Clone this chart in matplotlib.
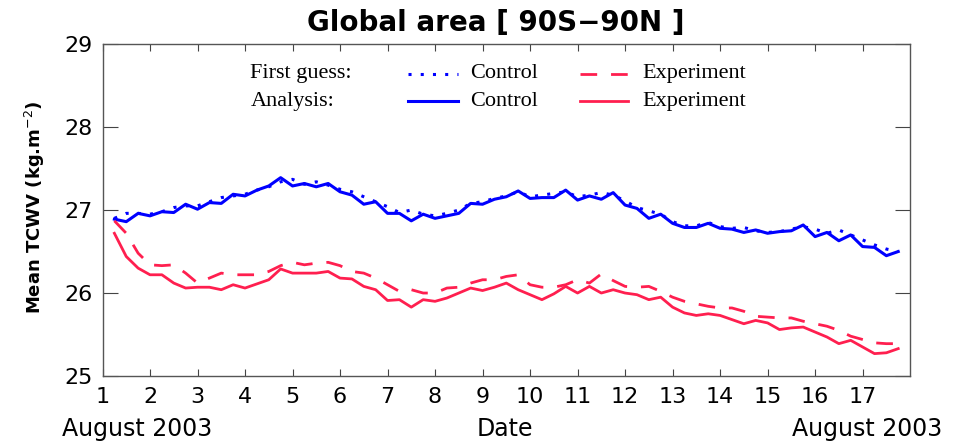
import numpy as np
import matplotlib
matplotlib.use('Agg')
from matplotlib import pyplot as plt

# 6-hourly times, Aug 1 06Z to Aug 17 18Z (day of month)
days = np.arange(1.25, 17.76, 0.25)

# first guess, control (dotted blue)
fg_control = [26.90, 26.96, 26.96, 26.95, 26.98, 27.03, 27.05, 27.05, 27.10, 27.15,
              27.17, 27.19, 27.24, 27.28, 27.34, 27.37, 27.31, 27.34, 27.30, 27.25,
              27.22, 27.16, 27.10, 27.04, 26.97, 27.00, 26.95, 26.93, 26.96, 27.00,
              27.08, 27.10, 27.14, 27.17, 27.22, 27.16, 27.18, 27.20, 27.22, 27.16,
              27.18, 27.21, 27.18, 27.11, 27.03, 26.99, 26.95, 26.86, 26.81, 26.81,
              26.85, 26.80, 26.78, 26.79, 26.75, 26.73, 26.74, 26.77, 26.80, 26.77,
              26.72, 26.76, 26.70, 26.64, 26.58, 26.53, 26.50]

# analysis, control (solid blue)
an_control = [26.89, 26.86, 26.96, 26.93, 26.98, 26.97, 27.07, 27.01, 27.09, 27.08,
              27.19, 27.17, 27.24, 27.29, 27.39, 27.29, 27.32, 27.28, 27.32, 27.22,
              27.18, 27.07, 27.10, 26.96, 26.96, 26.87, 26.95, 26.90, 26.93, 26.96,
              27.08, 27.07, 27.13, 27.16, 27.23, 27.14, 27.15, 27.15, 27.24, 27.12,
              27.17, 27.13, 27.21, 27.06, 27.02, 26.90, 26.95, 26.84, 26.79, 26.79,
              26.84, 26.78, 26.77, 26.73, 26.76, 26.72, 26.74, 26.75, 26.82, 26.68,
              26.73, 26.63, 26.70, 26.56, 26.55, 26.45, 26.50]

# first guess, experiment (dashed red)
fg_experiment = [26.87, 26.72, 26.48, 26.34, 26.33, 26.34, 26.24, 26.12, 26.18, 26.24,
                 26.22, 26.22, 26.22, 26.26, 26.33, 26.37, 26.34, 26.36, 26.37, 26.33,
                 26.26, 26.24, 26.18, 26.10, 26.02, 26.04, 26.00, 26.00, 26.06, 26.07,
                 26.12, 26.16, 26.16, 26.20, 26.22, 26.10, 26.07, 26.07, 26.10, 26.16,
                 26.12, 26.23, 26.15, 26.08, 26.07, 26.08, 26.02, 25.95, 25.90, 25.87,
                 25.84, 25.82, 25.82, 25.78, 25.72, 25.71, 25.70, 25.70, 25.66, 25.63,
                 25.60, 25.55, 25.48, 25.44, 25.40, 25.39, 25.39]

# analysis, experiment (solid red)
an_experiment = [26.72, 26.44, 26.30, 26.22, 26.22, 26.12, 26.06, 26.07, 26.07, 26.04,
                 26.10, 26.06, 26.11, 26.16, 26.29, 26.24, 26.24, 26.24, 26.26, 26.18,
                 26.17, 26.08, 26.04, 25.91, 25.92, 25.83, 25.92, 25.90, 25.94, 26.00,
                 26.06, 26.03, 26.07, 26.12, 26.04, 25.98, 25.92, 25.99, 26.08, 26.00,
                 26.08, 26.00, 26.04, 26.00, 25.98, 25.92, 25.95, 25.83, 25.76, 25.73,
                 25.75, 25.73, 25.68, 25.63, 25.67, 25.64, 25.56, 25.58, 25.59, 25.53,
                 25.47, 25.39, 25.43, 25.35, 25.27, 25.28, 25.33]

xticks = list(range(1, 18))
yticks = [25, 26, 27, 28, 29]

blue = '#0000ff'
red = '#ff1f4f'
dotted = (0, (1, 3))
dashed = (0, (6, 5))

fig = plt.figure(figsize=(9.58, 4.45), dpi=100)
ax = fig.add_axes([0.107, 0.155, 0.843, 0.746])

ax.plot(days, fg_control, color=blue, lw=2.2, linestyle=dotted)
ax.plot(days, an_control, color=blue, lw=2.2)
ax.plot(days, fg_experiment, color=red, lw=2.0, linestyle=dashed)
ax.plot(days, an_experiment, color=red, lw=2.0)

ax.set_xlim(1, 18)
ax.set_ylim(25, 29)
ax.set_xticks(xticks)
ax.set_xticklabels([str(d) for d in xticks])
ax.set_yticks(yticks)
ax.tick_params(axis='x', direction='in', length=5, width=0.8, top=True,
               labelsize=16, pad=8, colors='#444444', labelcolor='black')
ax.tick_params(axis='y', direction='in', length=11, width=0.8, right=True,
               labelsize=16, pad=7, colors='#444444', labelcolor='black')
for s in ax.spines.values():
    s.set_color('#555555')
    s.set_linewidth(1.0)

# legend drawn by hand (serif text as in the original)
tr = ax.transAxes
lf = dict(family='Liberation Serif', fontsize=16, va='center', transform=tr)
ax.text(0.183, 0.910, 'First guess:', **lf)
ax.text(0.183, 0.828, 'Analysis:', **lf)
ax.plot([0.378, 0.440], [0.910, 0.910], color=blue, lw=2.2, linestyle=dotted, transform=tr)
ax.plot([0.378, 0.440], [0.828, 0.828], color=blue, lw=2.2, transform=tr)
ax.text(0.455, 0.910, 'Control', **lf)
ax.text(0.455, 0.828, 'Control', **lf)
ax.plot([0.591, 0.653], [0.910, 0.910], color=red, lw=2.0, linestyle=dashed, transform=tr)
ax.plot([0.591, 0.651], [0.828, 0.828], color=red, lw=2.0, transform=tr)
ax.text(0.668, 0.910, 'Experiment', **lf)
ax.text(0.668, 0.828, 'Experiment', **lf)

fig.text(0.517, 0.948, 'Global area [ 90S\u221290N ]', ha='center', va='center',
         fontsize=20, fontweight='bold')
fig.text(0.036, 0.535, 'Mean TCWV (kg.m$^{-2}$)', rotation=90, ha='center', va='center',
         fontsize=13, fontweight='bold')
fig.text(0.065, 0.036, 'August 2003', ha='left', va='center', fontsize=17)
fig.text(0.527, 0.036, 'Date', ha='center', va='center', fontsize=17)
fig.text(0.984, 0.036, 'August 2003', ha='right', va='center', fontsize=17)

plt.savefig('out.png', dpi=100)
